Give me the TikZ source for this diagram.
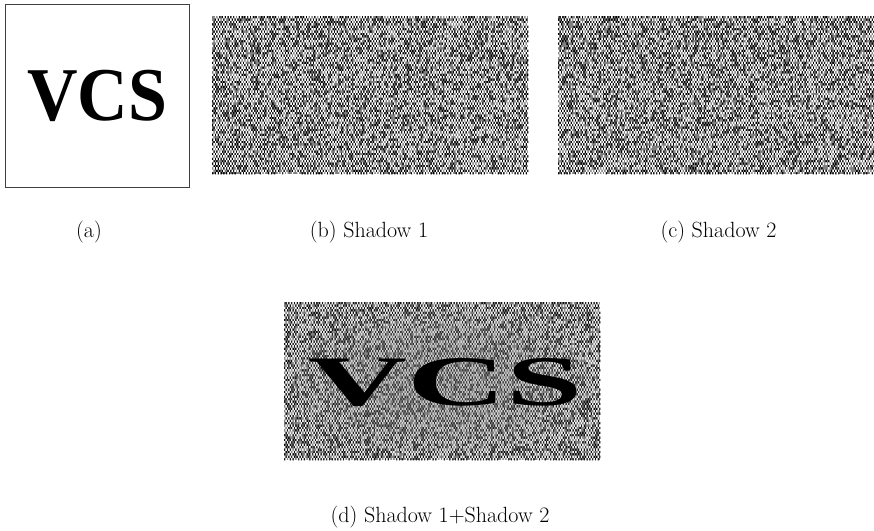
\documentclass[tikz,border=0pt]{standalone}
\usepackage{fontspec}
\newfontfamily\vcsfont{Liberation Serif}[BoldFont={Liberation Serif Bold},Ligatures=TeX]
\newcount\nrow \newcount\ncol \newcount\nseed \newcount\nodd
\def\nstep{\global\nseed=\numexpr(\nseed*1021+12347)-1048576*((\nseed*1021+12347-524288)/1048576)\relax}
% #1 cols, #2 threshold, #3 parity (0 or 1)
\def\ncolloop#1#2#3{\ifnum\ncol<#1\relax
  \nstep
  \nodd=\numexpr\ncol+\nrow\relax
  \ifnum\numexpr\nodd-2*((\nodd-1)/2)\relax=#3\relax
  \ifnum\nseed<#2\relax
    \pgfpathrectangle{\pgfqpoint{\dimexpr1.4pt*\ncol\relax}{\dimexpr-2.4pt*\nrow\relax}}{\pgfqpoint{1.4pt}{-2.4pt}}%
  \fi\fi
  \advance\ncol by 1
  \expandafter\ncolloop\expandafter{\number#1}{#2}{#3}\fi}
\def\nrowloop#1#2#3#4{\ifnum\nrow<#2\relax
  \ncol=0 \ncolloop{#1}{#3}{#4}\pgfusepath{fill}%
  \advance\nrow by 1
  \expandafter\nrowloop\expandafter{\number#1}{#2}{#3}{#4}\fi}
% #1 x, #2 y, #3 cols, #4 rows, #5 seed
\newcommand{\noisepanel}[5]{%
  \begin{scope}[shift={(#1,#2)}]
    \fill[black!50] (0,0) rectangle (1.4*#3,2.4*#4);
    \global\nseed=#5\relax
    \pgfsetfillcolor{black}\nrow=0 \nrowloop{#3}{#4}{760000}{1}%
    \pgfsetfillcolor{white}\nrow=0 \nrowloop{#3}{#4}{760000}{0}%
  \end{scope}}
\tikzset{
  panel/.style={draw=none,inner sep=0pt,minimum width=317pt,minimum height=159pt,anchor=north west},
  caption/.style={font=\fontsize{22}{26}\selectfont,inner sep=0pt,anchor=base},
  frame/.style={draw=black!75,line width=1pt,fill=white,inner sep=0pt,minimum width=184pt,minimum height=183pt,anchor=north west}
}
\begin{document}
\begin{tikzpicture}[x=1pt,y=-1pt]
\useasboundingbox (0,0) rectangle (874,530);
\fill[white] (0,0) rectangle (874,530);
% (a)
\node[frame] (orig) at (5,4) {};
\node[inner sep=0pt,anchor=base] (vcsa) at (97,120) {\scalebox{.92}[1]{\fontsize{76}{80}\selectfont\vcsfont\bfseries VCS}};
% shadows
\noisepanel{212}{16}{226}{66}{12345}
\node[panel] (shadowone) at (212,16) {};
\noisepanel{558}{16}{226}{66}{54321}
\node[panel] (shadowtwo) at (558,16) {};
% stacked
\noisepanel{284}{302}{226}{66}{777}
\node[panel] (stacked) at (284,302) {};
\fill[black!50,opacity=.12] (284,302) rectangle (600.4,460.4);
\fill[black!50,opacity=.12] (442,382) ellipse (150 and 72);
\fill[black!50,opacity=.14] (442,382) ellipse (115 and 58);
\fill[black!50,opacity=.14] (442,382) ellipse (75 and 40);
\node[inner sep=0pt,anchor=base] (vcsd) at (446,405) {\scalebox{1.93}[1]{\fontsize{71}{75}\selectfont\vcsfont\bfseries VCS}};
% captions
\node[caption] (capa) at (89,237.5) {(a)};
\node[caption] (capb) at (369,237.5) {(b) Shadow 1};
\node[caption] (capc) at (718.5,237.5) {(c) Shadow 2};
\node[caption] (capd) at (440,522.5) {(d) Shadow 1+Shadow 2};
\end{tikzpicture}
\end{document}
